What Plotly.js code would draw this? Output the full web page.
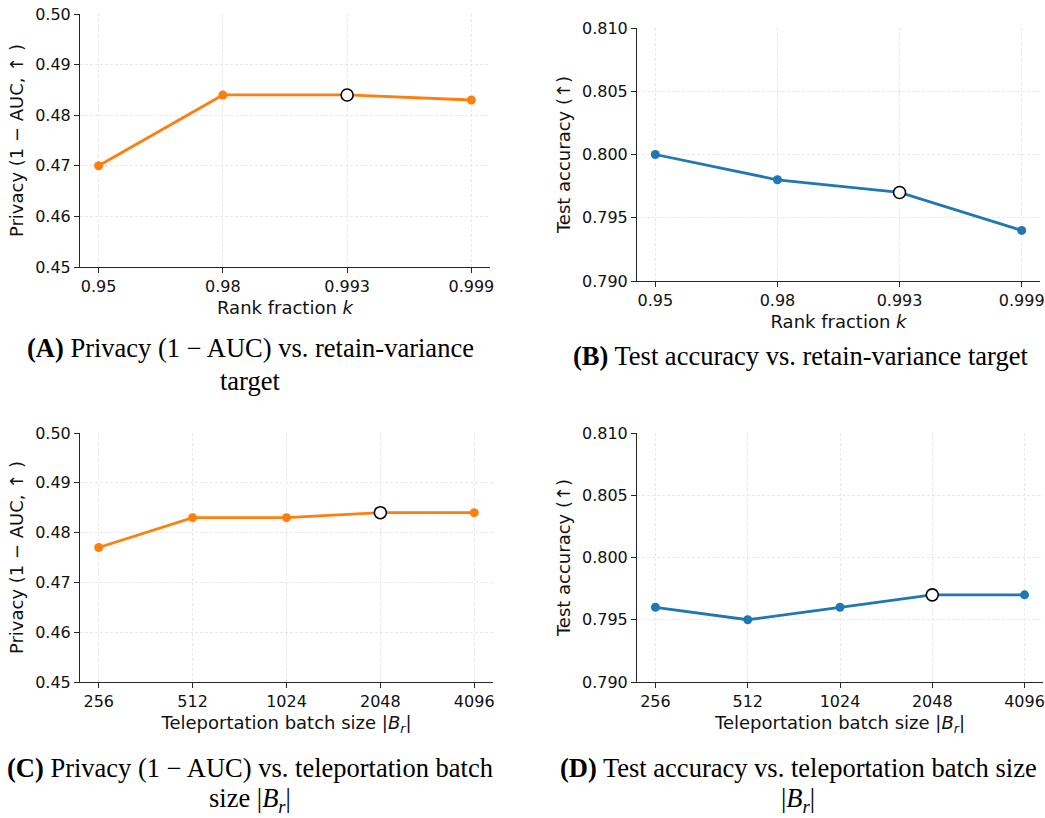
<!DOCTYPE html>
<html>
<head>
<meta charset="utf-8">
<script src="https://cdn.plot.ly/plotly-3.0.1.min.js"></script>
<style>html,body{margin:0;padding:0;background:#fff;}#chart{width:1045px;height:818px;}</style>
</head>
<body>
<div id="chart"></div>
<script>
// ---- data ----
const rankFractions = ["0.95", "0.98", "0.993", "0.999"];
const privacyByRank = [0.470, 0.484, 0.484, 0.483];
const accuracyByRank = [0.800, 0.798, 0.797, 0.794];
const batchSizes = ["256", "512", "1024", "2048", "4096"];
const privacyByBatch = [0.477, 0.483, 0.483, 0.484, 0.484];
const accuracyByBatch = [0.796, 0.795, 0.796, 0.797, 0.797];
const chosenRank = "0.993";
const chosenBatch = "2048";
const privacyTicks = [0.45, 0.46, 0.47, 0.48, 0.49, 0.50];
const accuracyTicks = [0.790, 0.795, 0.800, 0.805, 0.810];

const ORANGE = "#ff7f0e", BLUE = "#1f77b4";
const W = 1045, H = 818;
const SANS = "'DejaVu Sans', sans-serif";
const SERIF = "'Liberation Serif', 'Times New Roman', serif";

function lineTrace(x, y, color, xa, ya) {
  return {x: x, y: y, type: "scatter", mode: "lines+markers", xaxis: xa, yaxis: ya,
    line: {color: color, width: 2.8}, marker: {color: color, size: 9}, hoverinfo: "x+y", showlegend: false};
}
function chosenTrace(x, y, sel, xa, ya) {
  const i = x.indexOf(sel);
  return {x: [x[i]], y: [y[i]], type: "scatter", mode: "markers", xaxis: xa, yaxis: ya,
    marker: {color: "#ffffff", size: 12, line: {color: "#000000", width: 1.6}}, hoverinfo: "x+y", showlegend: false};
}

const traces = [
  lineTrace(rankFractions, privacyByRank, ORANGE, "x", "y"),
  chosenTrace(rankFractions, privacyByRank, chosenRank, "x", "y"),
  lineTrace(rankFractions, accuracyByRank, BLUE, "x2", "y2"),
  chosenTrace(rankFractions, accuracyByRank, chosenRank, "x2", "y2"),
  lineTrace(batchSizes, privacyByBatch, ORANGE, "x3", "y3"),
  chosenTrace(batchSizes, privacyByBatch, chosenBatch, "x3", "y3"),
  lineTrace(batchSizes, accuracyByBatch, BLUE, "x4", "y4"),
  chosenTrace(batchSizes, accuracyByBatch, chosenBatch, "x4", "y4")
];

function px(a, b) { return [a / W, b / W]; }
function py(top, bottom) { return [1 - bottom / H, 1 - top / H]; }

const common = {
  showline: true, linecolor: "#262626", linewidth: 1, mirror: false,
  ticks: "outside", ticklen: 5, tickwidth: 1, tickcolor: "#262626",
  showgrid: true, gridcolor: "#e3e3e3", gridwidth: 0.8, griddash: "3px,2px",
  zeroline: false, automargin: false, fixedrange: true,
  tickfont: {family: SANS, size: 16, color: "#111111"}
};
function xAxis(domain, anchor, cats, title) {
  return Object.assign({}, common, {
    domain: domain, anchor: anchor, type: "category", categoryorder: "array", categoryarray: cats,
    range: [-0.05 * (cats.length - 1), (cats.length - 1) * 1.05],
    title: {text: title, font: {family: SANS, size: 18, color: "#111111"}, standoff: 6}
  });
}
function yAxis(domain, anchor, ticks, fmt, title) {
  return Object.assign({}, common, {
    domain: domain, anchor: anchor, range: [ticks[0], ticks[ticks.length - 1]],
    tickmode: "array", tickvals: ticks, tickformat: fmt,
    title: {text: title, font: {family: SANS, size: 18, color: "#111111"}, standoff: 6}
  });
}

const rankTitle = "Rank fraction <i>k</i>";
const batchTitle = "Teleportation batch size |<i>B</i><sub><i>r</i></sub>|";
const privTitle = "Privacy (1 − AUC, ↑ )";
const accTitle = "Test accuracy (↑)";

function cap(text, xc, yc) {
  return {text: text, x: xc / W, y: 1 - yc / H, xref: "paper", yref: "paper",
    xanchor: "center", yanchor: "middle", showarrow: false,
    font: {family: SERIF, size: 26.5, color: "#000000"}};
}

const layout = {
  width: W, height: H, margin: {l: 0, r: 0, t: 0, b: 0},
  paper_bgcolor: "#ffffff", plot_bgcolor: "#ffffff", showlegend: false,
  xaxis: xAxis(px(80, 490), "y", rankFractions, rankTitle),
  yaxis: yAxis(py(14, 267), "x", privacyTicks, ".2f", privTitle),
  xaxis2: xAxis(px(637, 1040), "y2", rankFractions, rankTitle),
  yaxis2: yAxis(py(28, 281), "x2", accuracyTicks, ".3f", accTitle),
  xaxis3: xAxis(px(80, 493), "y3", batchSizes, batchTitle),
  yaxis3: yAxis(py(433, 682), "x3", privacyTicks, ".2f", privTitle),
  xaxis4: xAxis(px(637, 1043), "y4", batchSizes, batchTitle),
  yaxis4: yAxis(py(433, 682), "x4", accuracyTicks, ".3f", accTitle),
  annotations: [
    cap("<b>(A)</b> Privacy (1 − AUC) vs. retain-variance", 250, 348),
    cap("target", 250, 381),
    cap("<b>(B)</b> Test accuracy vs. retain-variance target", 800, 356),
    cap("<b>(C)</b> Privacy (1 − AUC) vs. teleportation batch", 250, 768),
    cap("size |<i>B</i><sub><i>r</i></sub>|", 250, 800),
    cap("<b>(D)</b> Test accuracy vs. teleportation batch size", 798, 768),
    cap("|<i>B</i><sub><i>r</i></sub>|", 798, 800)
  ]
};

Plotly.newPlot("chart", traces, layout, {staticPlot: true, displayModeBar: false});
</script>
</body>
</html>
